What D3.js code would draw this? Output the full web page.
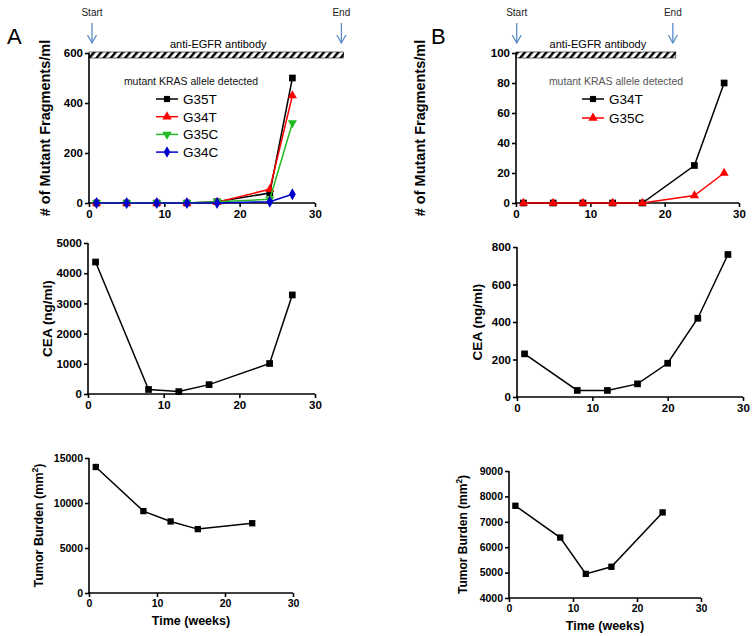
<!DOCTYPE html>
<html>
<head>
<meta charset="utf-8">
<script src="https://cdn.jsdelivr.net/npm/d3@7"></script>
<style>
  body { margin: 0; background: #fff; }
  svg { font-family: "Liberation Sans", Arial, sans-serif; }
  .axis path, .axis line { stroke: #000; stroke-width: 1.6px; }
  .axis text { font-weight: bold; fill: #000; }
</style>
</head>
<body>
<div id="chart"></div>
<script>
// ---- data ----
var weeksTopA = [1, 5, 9, 13, 17, 24, 27];
var g35tA = [0, 0, 0, 0, 5, 40, 500];
var g34tA = [0, 0, 0, 0, 3, 55, 430];
var g35cA = [0, 0, 0, 0, 5, 15, 320];
var g34cA = [0, 0, 0, 0, 0, 5, 35];

var weeksTopB = [1, 5, 9, 13, 17, 24, 28];
var g34tB = [0, 0, 0, 0, 0, 25, 80];
var g35cB = [0, 0, 0, 0, 0, 5, 20];

var weeksCeaA = [1, 8, 12, 16, 24, 27];
var ceaA = [4370, 150, 80, 310, 1010, 3280];
var weeksCeaB = [1, 8, 12, 16, 20, 24, 28];
var ceaB = [230, 35, 35, 70, 180, 420, 760];

var weeksTumorA = [1, 8, 12, 16, 24];
var tumorA = [14000, 9100, 7950, 7100, 7750];
var weeksTumorB = [1, 8, 12, 16, 24];
var tumorB = [7630, 6380, 4950, 5230, 7370];

var xTicks = [0, 10, 20, 30];
var yTicksTopA = [0, 200, 400, 600];
var yTicksTopB = [0, 20, 40, 60, 80, 100];
var yTicksCeaA = [0, 1000, 2000, 3000, 4000, 5000];
var yTicksCeaB = [0, 200, 400, 600, 800];
var yTicksTumorA = [0, 5000, 10000, 15000];
var yTicksTumorB = [4000, 5000, 6000, 7000, 8000, 9000];

var svg = d3.select('#chart').append('svg')
  .attr('width', 756)
  .attr('height', 636);

// hatch pattern for the antibody bar
var defs = svg.append('defs');
defs.append('pattern')
  .attr('id', 'hatch')
  .attr('patternUnits', 'userSpaceOnUse')
  .attr('width', 5.5).attr('height', 5.5)
  .attr('patternTransform', 'rotate(40)')
  .append('rect')
  .attr('x', 0).attr('y', 0)
  .attr('width', 2.4).attr('height', 5.5)
  .attr('fill', '#000');

// draw one panel: axes + series
function panel(cfg) {
  var x = d3.scaleLinear().domain([0, 30]).range([cfg.x0, cfg.x1]);
  var y = d3.scaleLinear().domain(cfg.yDomain).range([cfg.y1, cfg.y0]);
  var fs = cfg.fontSize || 11.5;

  var xa = svg.append('g').classed('axis', true)
    .attr('transform', 'translate(0,' + cfg.y1 + ')')
    .call(d3.axisBottom(x).tickValues(xTicks).tickSize(4).tickSizeOuter(0).tickPadding(3));
  xa.selectAll('text').attr('font-size', fs);

  var ya = svg.append('g').classed('axis', true)
    .attr('transform', 'translate(' + cfg.x0 + ',0)')
    .call(d3.axisLeft(y).tickValues(cfg.yTicks).tickFormat(d3.format('d')).tickSize(4).tickSizeOuter(0).tickPadding(2));
  ya.selectAll('text').attr('font-size', fs);
  xa.select('.domain').attr('d', 'M' + (cfg.x0 - 1) + ',0H' + cfg.x1);
  ya.select('.domain').attr('d', 'M0,' + (cfg.y0) + 'V' + (cfg.y1 + 1));

  // y label
  var ls = cfg.yLabelSize || 13.5;
  svg.append('text')
    .attr('transform', 'translate(' + cfg.yLabelX + ',' + ((cfg.y0 + cfg.y1) / 2) + ') rotate(-90)')
    .attr('text-anchor', 'middle')
    .attr('font-size', ls)
    .attr('font-weight', cfg.yLabelWeight || 'bold')
    .each(function() {
      var t = d3.select(this);
      if (cfg.sup) {
        t.append('tspan').text(cfg.yLabel);
        t.append('tspan').attr('dy', -ls * 0.4).attr('font-size', ls * 0.7).text(cfg.sup);
        t.append('tspan').attr('dy', ls * 0.4).text(')');
      } else {
        t.text(cfg.yLabel);
      }
    });

  if (cfg.xLabel) {
    svg.append('text')
      .attr('x', (cfg.x0 + cfg.x1) / 2)
      .attr('y', cfg.y1 + 32)
      .attr('text-anchor', 'middle')
      .attr('font-size', 12.5)
      .attr('font-weight', 'bold')
      .text(cfg.xLabel);
  }

  var line = d3.line()
    .x(function(d) { return x(d[0]); })
    .y(function(d) { return y(d[1]); });

  cfg.series.forEach(function(s) {
    var pts = s.weeks.map(function(w, i) { return [w, s.values[i]]; });
    svg.append('path')
      .datum(pts)
      .attr('d', line)
      .attr('fill', 'none')
      .attr('stroke', s.color)
      .attr('stroke-width', 1.5);
    svg.selectAll('.m')
      .data(pts)
      .enter()
      .append('path')
      .attr('transform', function(d) { return 'translate(' + x(d[0]) + ',' + y(d[1]) + ')' + (s.rot ? ' rotate(' + s.rot + ')' : ''); })
      .attr('d', d3.symbol().type(s.symbol).size(s.size || 42))
      .attr('fill', s.color);
  });

  return { x: x, y: y };
}

// antibody bar, arrows and labels above a top panel
function treatment(sc, endWeek, startX, endX, letter, letterX, barY) {
  var x = sc.x;
  svg.append('rect')
    .attr('x', x(0)).attr('y', barY)
    .attr('width', x(endWeek) - x(0)).attr('height', 6)
    .attr('fill', 'url(#hatch)')
    .attr('stroke', '#000').attr('stroke-width', 0.6);
  svg.append('text')
    .attr('x', (x(0) + x(endWeek)) / 2 + 2).attr('y', barY - 4)
    .attr('text-anchor', 'middle').attr('font-size', 11)
    .text('anti-EGFR antibody');

  [[startX, 'Start'], [endX, 'End']].forEach(function(a) {
    var ax = x(a[0]);
    svg.append('text').attr('x', ax).attr('y', 16)
      .attr('text-anchor', 'middle').attr('font-size', 10).attr('fill', '#222')
      .text(a[1]);
    var g = svg.append('g').attr('stroke', '#5b8cc6').attr('stroke-width', 1.3).attr('fill', 'none');
    g.append('line').attr('x1', ax).attr('x2', ax).attr('y1', 23).attr('y2', 43);
    g.append('polyline').attr('points', (ax - 4.5) + ',35 ' + ax + ',43 ' + (ax + 4.5) + ',35');
  });

  svg.append('text').attr('x', letterX).attr('y', 44)
    .attr('font-size', 22).text(letter);
}

function legend(items, lx, ly, gap, titleX, titleY, titleColor) {
  svg.append('text').attr('x', titleX).attr('y', titleY)
    .attr('text-anchor', 'middle').attr('font-size', 10.5)
    .attr('fill', titleColor)
    .text('mutant KRAS allele detected');
  items.forEach(function(s, i) {
    var yy = ly + i * gap;
    svg.append('line').attr('x1', lx).attr('x2', lx + 22).attr('y1', yy).attr('y2', yy)
      .attr('stroke', s.color).attr('stroke-width', 1.5);
    svg.append('path')
      .attr('transform', 'translate(' + (lx + 11) + ',' + yy + ')' + (s.rot ? ' rotate(' + s.rot + ')' : ''))
      .attr('d', d3.symbol().type(s.symbol).size(38))
      .attr('fill', s.color);
    svg.append('text').attr('x', lx + 27).attr('y', yy + 5)
      .attr('font-size', 13.5).text(s.name);
  });
}

// ---- series definitions ----
var seriesTopA = [
  { name: 'G35T', weeks: weeksTopA, values: g35tA, color: '#000000', symbol: d3.symbolSquare, size: 45 },
  { name: 'G34T', weeks: weeksTopA, values: g34tA, color: '#ff0000', symbol: d3.symbolTriangle, size: 36 },
  { name: 'G35C', weeks: weeksTopA, values: g35cA, color: '#22bb22', symbol: d3.symbolTriangle, rot: 180, size: 36 },
  { name: 'G34C', weeks: weeksTopA, values: g34cA, color: '#0000cc', symbol: d3.symbolDiamond, size: 40 }
];
var seriesTopB = [
  { name: 'G34T', weeks: weeksTopB, values: g34tB, color: '#000000', symbol: d3.symbolSquare, size: 45 },
  { name: 'G35C', weeks: weeksTopB, values: g35cB, color: '#ff0000', symbol: d3.symbolTriangle, size: 36 }
];

// ---- panel A ----
var topA = panel({ x0: 89, x1: 315, y0: 53, y1: 203, yDomain: [0, 600], yTicks: yTicksTopA,
  yLabel: '# of Mutant Fragments/ml', yLabelX: 50, yLabelSize: 14.5, series: seriesTopA });
treatment(topA, 33.8, 0.4, 33.5, 'A', 7, 52);
legend(seriesTopA, 156, 99, 17.7, 191, 85, '#111');

panel({ x0: 88, x1: 315, y0: 243, y1: 394, yDomain: [0, 5000], yTicks: yTicksCeaA,
  yLabel: 'CEA (ng/ml)', yLabelX: 52, series: [
    { weeks: weeksCeaA, values: ceaA, color: '#000', symbol: d3.symbolSquare, size: 45 }] });

panel({ x0: 89, x1: 293, y0: 458, y1: 593, yDomain: [0, 15000], yTicks: yTicksTumorA, fontSize: 10.5,
  yLabel: 'Tumor Burden (mm', sup: '2', yLabelX: 43, yLabelSize: 12.5, xLabel: 'Time (weeks)', series: [
    { weeks: weeksTumorA, values: tumorA, color: '#000', symbol: d3.symbolSquare, size: 40 }] });

// ---- panel B ----
var topB = panel({ x0: 516, x1: 739, y0: 53, y1: 203, yDomain: [0, 100], yTicks: yTicksTopB,
  yLabel: '# of Mutant Fragments/ml', yLabelX: 425, yLabelSize: 14.5, series: seriesTopB });
treatment(topB, 21.5, 0.1, 21.1, 'B', 431, 52);
legend(seriesTopB, 582, 99, 19, 616, 85, '#555');

panel({ x0: 517, x1: 743, y0: 247, y1: 397, yDomain: [0, 800], yTicks: yTicksCeaB,
  yLabel: 'CEA (ng/ml)', yLabelX: 482, yLabelSize: 13.5, series: [
    { weeks: weeksCeaB, values: ceaB, color: '#000', symbol: d3.symbolSquare, size: 45 }] });

panel({ x0: 509, x1: 701, y0: 471, y1: 598, yDomain: [4000, 9000], yTicks: yTicksTumorB, fontSize: 10.5,
  yLabel: 'Tumor Burden (mm', sup: '2', yLabelX: 467, yLabelSize: 12, xLabel: 'Time (weeks)', series: [
    { weeks: weeksTumorB, values: tumorB, color: '#000', symbol: d3.symbolSquare, size: 40 }] });
</script>
</body>
</html>
